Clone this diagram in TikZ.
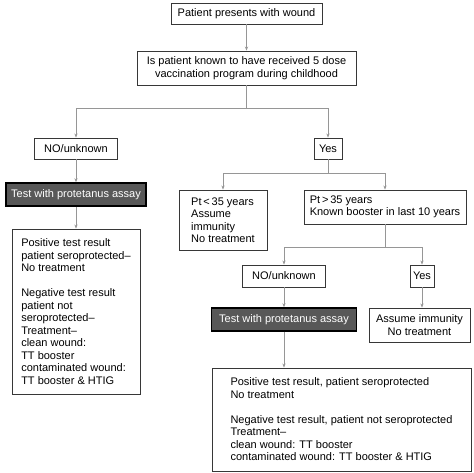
\documentclass[tikz,border=0pt]{standalone}
\usepackage{fontspec}
\setmainfont{Liberation Sans}
\usetikzlibrary{arrows.meta}
\definecolor{boxc}{RGB}{55,55,55}
\definecolor{connc}{RGB}{150,150,150}
\definecolor{testc}{RGB}{88,88,88}
\newcommand{\fs}{\fontsize{11}{12.5}\selectfont}
\tikzset{
  box/.style={draw=boxc, line width=0.9pt, fill=white, inner sep=0pt, font=\fs},
  testbox/.style={draw=black, line width=1.6pt, fill=testc, text=white, inner sep=0pt, font=\fs},
  conn/.style={draw=connc, line width=0.8pt},
  arr/.style={conn, -{Stealth[length=4pt,width=3.2pt]}},
}
\begin{document}
\begin{tikzpicture}[x=1pt,y=-1pt]
\useasboundingbox[fill=white] (0,0) rectangle (474,473);
% top
\node[box, minimum width=151, minimum height=21] (b1) at (246.5,13.5) {Patient presents with wound};
\node[box, minimum width=219, minimum height=34, align=center] (b2) at (246.5,68) {Is patient known to have received 5 dose\\vaccination program during childhood};
% first level
\node[box, minimum width=83, minimum height=21] (no1) at (76,148.5) {NO/unknown};
\node[box, minimum width=28, minimum height=21] (yes1) at (328,148.5) {Yes};
% left branch
\node[testbox, minimum width=140, minimum height=23] (test1) at (76,194.5) {Test with protetanus assay};
\node[box, minimum width=128, minimum height=165, align=left] (res1) at (76,311.5) {Positive test result\\patient seroprotected–\\No treatment\\[12.5pt]Negative test result\\patient not\\seroprotected–\\Treatment–\\clean wound:\\TT booster\\contaminated wound:\\TT booster \& HTIG};
% right branch
\node[box, minimum width=88, minimum height=60, align=left] (lt35) at (223,220) {Pt\,<\,35 years\\Assume\\immunity\\No treatment};
\node[box, minimum width=162, minimum height=34, align=left] (gt35) at (385,207) {Pt\,>\,35 years\\Known booster in last 10 years};
\node[box, minimum width=83, minimum height=22] (no2) at (284,276) {NO/unknown};
\node[box, minimum width=24, minimum height=22] (yes2) at (422,276) {Yes};
\node[testbox, minimum width=145, minimum height=23] (test2) at (284,319.5) {Test with protetanus assay};
\node[box, minimum width=101, minimum height=34, align=center] (assume) at (419.5,325) {Assume immunity\\No treatment};
\node[box, minimum width=259, minimum height=103, align=left] (big) at (341.5,419.5) {Positive test result, patient seroprotected\\No treatment\\[12.5pt]Negative test result, patient not seroprotected\\Treatment–\\clean wound: TT booster\\contaminated wound: TT booster \& HTIG};
% connectors
\draw[arr] (b1) -- (b2);
\path (b2.south) ++(0,23) coordinate (s1);
\draw[conn] (b2) -- (s1);
\draw[arr] (s1) -| (no1);
\draw[arr] (s1) -| (yes1);
\draw[arr] (no1) -- (test1);
\draw[arr] (test1) -- (res1);
\path (yes1.south) ++(0,14) coordinate (s2);
\draw[conn] (yes1) -- (s2);
\draw[arr] (s2) -| (lt35);
\draw[arr] (s2) -| (gt35);
\path (gt35.south) ++(0,23) coordinate (s3);
\draw[conn] (gt35) -- (s3);
\draw[arr] (s3) -| (no2);
\draw[arr] (s3) -| (yes2);
\draw[arr] (no2) -- (test2);
\draw[arr] (test2) -- (test2 |- big.north);
\draw[arr] (yes2) -- (yes2 |- assume.north);
\end{tikzpicture}
\end{document}
